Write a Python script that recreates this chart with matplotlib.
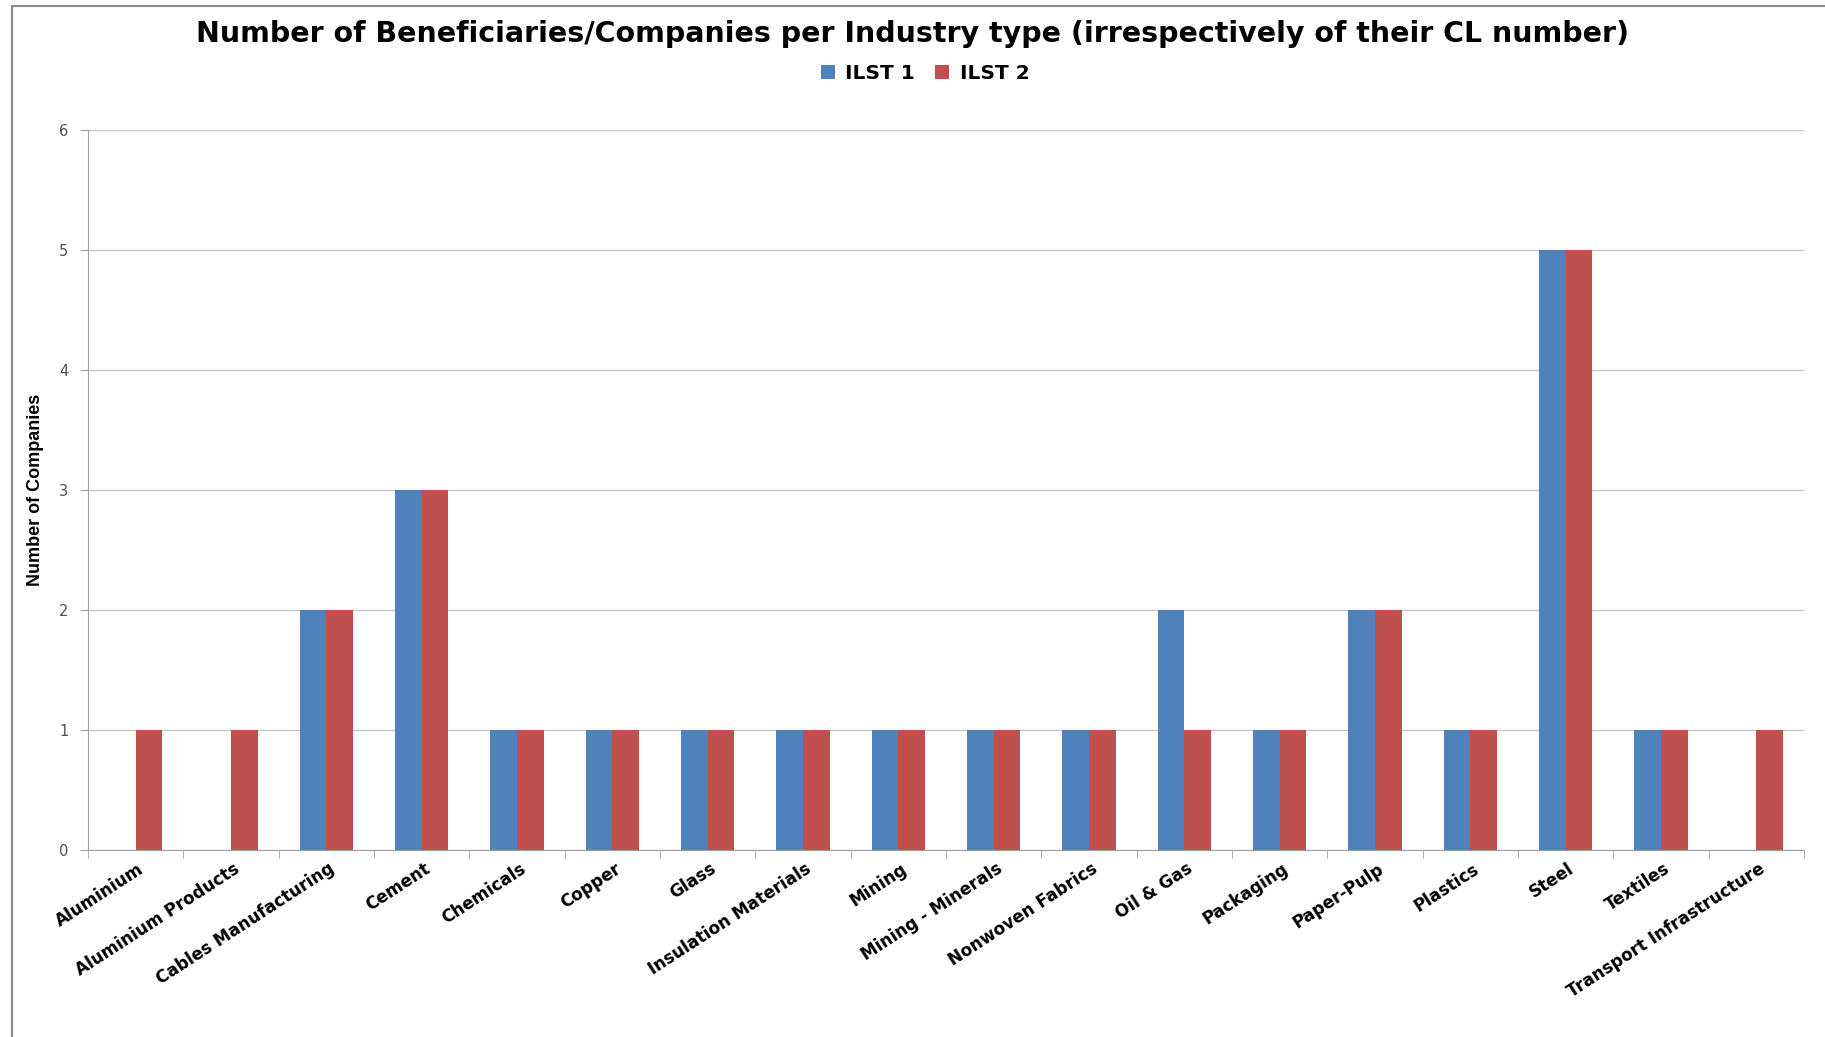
import numpy as np
from matplotlib import pyplot as plt
import matplotlib.transforms as mtransforms
from matplotlib.patches import Rectangle

industries = ['Aluminium', 'Aluminium Products', 'Cables Manufacturing', 'Cement',
              'Chemicals', 'Copper', 'Glass', 'Insulation Materials', 'Mining',
              'Mining - Minerals', 'Nonwoven Fabrics', 'Oil & Gas', 'Packaging',
              'Paper-Pulp', 'Plastics', 'Steel', 'Textiles', 'Transport Infrastructure']
ilst1 = [0, 0, 2, 3, 1, 1, 1, 1, 1, 1, 1, 2, 1, 2, 1, 5, 1, 0]
ilst2 = [1, 1, 2, 3, 1, 1, 1, 1, 1, 1, 1, 1, 1, 2, 1, 5, 1, 1]
y_ticks = [0, 1, 2, 3, 4, 5, 6]

BLUE = '#4F81BD'
RED = '#C0504D'

fig = plt.figure(figsize=(18.25, 10.37), dpi=100)
ax = fig.add_axes([0.0482, 0.1803, 0.9403, 0.6943])

# chart frame
fig.patches.append(Rectangle((0.0066, -0.01), 1.2, 1.004, transform=fig.transFigure,
                             fill=False, edgecolor='#8c8c8c', linewidth=1.5))

x = np.arange(len(industries))
w = 0.28
ax.bar(x - w / 2, ilst1, w, color=BLUE, label='ILST 1', zorder=3)
ax.bar(x + w / 2, ilst2, w, color=RED, label='ILST 2', zorder=3)

ax.set_xlim(-0.5, len(industries) - 0.5)
ax.set_ylim(0, 6)
ax.set_yticks(y_ticks)
ax.yaxis.grid(True, color='#c8c8c8', linewidth=1)
ax.set_axisbelow(True)

for side in ['top', 'right']:
    ax.spines[side].set_visible(False)
for side in ['left', 'bottom']:
    ax.spines[side].set_color('#a0a0a0')

ax.tick_params(axis='y', length=6, color='#a0a0a0', labelsize=10.5, labelcolor='#505050', pad=8)
ax.set_xticks(np.arange(len(industries) + 1) - 0.5, minor=True)
ax.set_xticks(x)
ax.tick_params(axis='x', which='minor', length=6, color='#a0a0a0')
ax.tick_params(axis='x', which='major', length=0, pad=7)
ax.set_xticklabels(industries, rotation=33, ha='right', rotation_mode='anchor',
                   fontsize=12.2, fontweight='bold', family='DejaVu Sans')
# nudge labels a little to the right of the category centre
offset = mtransforms.ScaledTranslation(2 / 100, 0, fig.dpi_scale_trans)
for lbl in ax.get_xticklabels():
    lbl.set_transform(lbl.get_transform() + offset)

ax.set_ylabel('Number of Companies', fontsize=13, fontweight='bold',
              family=['Liberation Sans', 'DejaVu Sans'], labelpad=11)

fig.text(0.5, 0.967, 'Number of Beneficiaries/Companies per Industry type (irrespectively of their CL number)',
         ha='center', va='center', fontsize=20.5, fontweight='bold')
fig.legend(loc='center', bbox_to_anchor=(0.507, 0.929), ncol=2, frameon=False,
           prop={'weight': 'bold', 'size': 14.5}, handlelength=0.7,
           handleheight=0.7, columnspacing=1.0, handletextpad=0.5)

fig.savefig('out.png', dpi=100)
